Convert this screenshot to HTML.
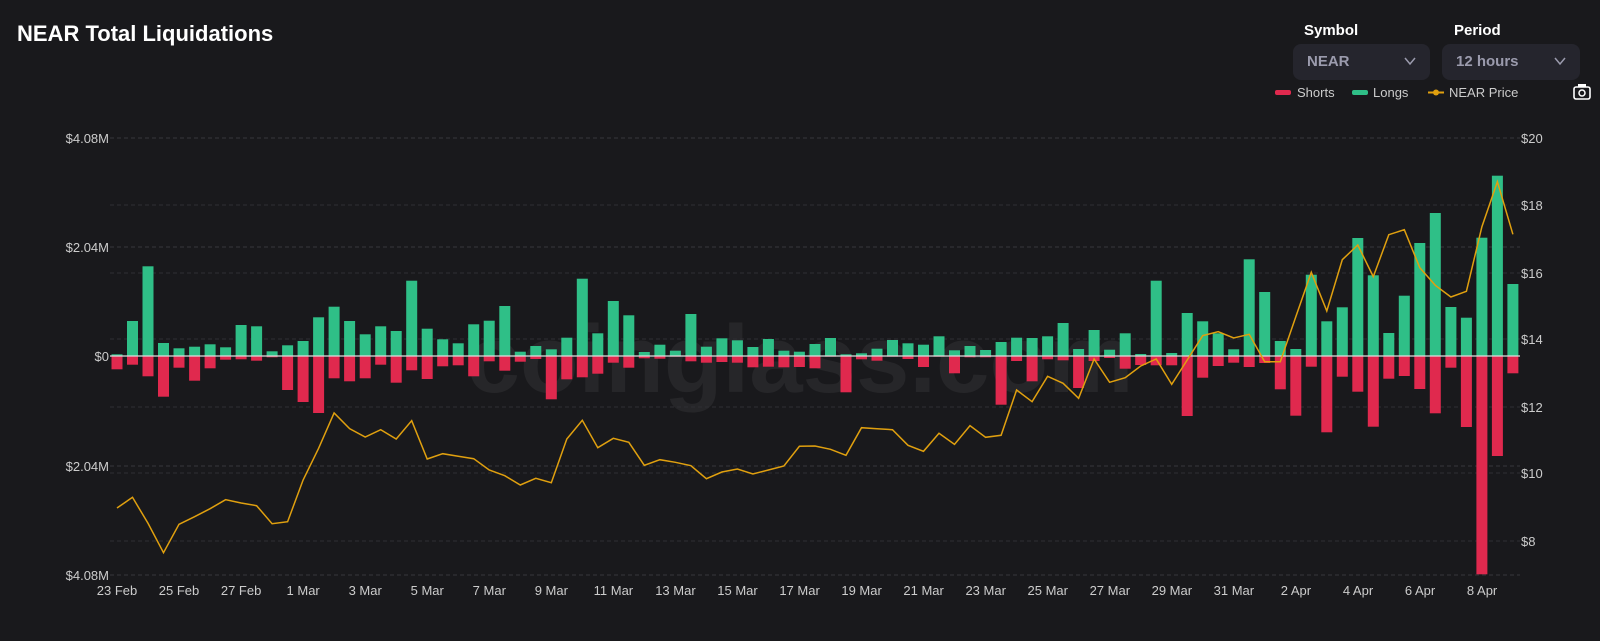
<!DOCTYPE html>
<html><head><meta charset="utf-8"><style>
html,body{margin:0;padding:0;background:#19191c;width:1600px;height:641px;overflow:hidden;font-family:"Liberation Sans",sans-serif}
</style></head><body>
<svg id="s" width="1600" height="641" xmlns="http://www.w3.org/2000/svg" style="position:absolute;left:0;top:0">
<rect width="1600" height="641" fill="#19191c"/>
<text x="17" y="41" fill="#fff" font-size="22" font-weight="bold" font-family="Liberation Sans, sans-serif">NEAR Total Liquidations</text>
<text x="1304" y="35" fill="#fff" font-size="15" font-weight="bold">Symbol</text>
<text x="1454" y="35" fill="#fff" font-size="15" font-weight="bold">Period</text>
<rect x="1293" y="44" width="137" height="36" rx="8" fill="#25252d"/>
<rect x="1442" y="44" width="138" height="36" rx="8" fill="#25252d"/>
<text x="1307" y="66" fill="#9b9bad" font-size="15" font-weight="bold">NEAR</text>
<text x="1456" y="66" fill="#9b9bad" font-size="15" font-weight="bold">12 hours</text>
<polyline points="1405,58 1410,64 1415,58" fill="none" stroke="#9b9bad" stroke-width="1.5"/>
<polyline points="1555,58 1560,64 1565,58" fill="none" stroke="#9b9bad" stroke-width="1.5"/>
<rect x="1275" y="90" width="16" height="5" rx="2" fill="#e0294e"/>
<text x="1297" y="97" fill="#ccc" font-size="13">Shorts</text>
<rect x="1352" y="90" width="16" height="5" rx="2" fill="#2fbf87"/>
<text x="1373" y="97" fill="#ccc" font-size="13">Longs</text>
<line x1="1428" y1="92.5" x2="1444" y2="92.5" stroke="#e0a00f" stroke-width="2"/>
<circle cx="1436" cy="92.5" r="3" fill="#e0a00f"/>
<text x="1449" y="97" fill="#ccc" font-size="13">NEAR Price</text>
<rect x="1574" y="87" width="16" height="12" rx="2" fill="none" stroke="#fff" stroke-width="1.6"/>
<rect x="1578" y="84" width="8" height="3" fill="#fff"/>
<circle cx="1582" cy="93" r="3" fill="none" stroke="#fff" stroke-width="1.5"/>
<text x="800" y="392" fill="#fff" fill-opacity="0.06" font-size="96" font-weight="bold" text-anchor="middle">coinglass.com</text>
<g id="g"></g>
</svg>
<script>
var g=document.getElementById('g'),h='';
[138,247,466,575].forEach(function(y){h+='<line x1="110" x2="1520" y1="'+y+'" y2="'+y+'" stroke="#36363c" stroke-dasharray="4,3"/>';});
[205,273,339,407,473,541].forEach(function(y){h+='<line x1="110" x2="1520" y1="'+y+'" y2="'+y+'" stroke="#2e2e34" stroke-dasharray="4,3"/>';});
var L=[['$4.08M',138],['$2.04M',247],['$0',356],['$2.04M',466],['$4.08M',575]];
L.forEach(function(a){h+='<text x="109" y="'+(a[1]+5)+'" fill="#ccc" font-size="13" text-anchor="end">'+a[0]+'</text>';});
var R=[['$20',138],['$18',205],['$16',273],['$14',339],['$12',407],['$10',473],['$8',541]];
R.forEach(function(a){h+='<text x="1521" y="'+(a[1]+5)+'" fill="#ccc" font-size="13">'+a[0]+'</text>';});
var X=['23 Feb','25 Feb','27 Feb','1 Mar','3 Mar','5 Mar','7 Mar','9 Mar','11 Mar','13 Mar','15 Mar','17 Mar','19 Mar','21 Mar','23 Mar','25 Mar','27 Mar','29 Mar','31 Mar','2 Apr','4 Apr','6 Apr','8 Apr'];
X.forEach(function(t,i){h+='<text x="'+(117+i*62.05)+'" y="595" fill="#ccc" font-size="13" text-anchor="middle">'+t+'</text>';});
var G=[354.3,321,266.3,343,348.3,346.7,344.3,347.3,325,326.3,351.3,345.3,341,317.3,306.7,321,334.3,326.3,331,280.7,328.7,339.3,343.3,324.3,320.7,306,351.7,346,349.3,337.7,278.7,333.3,301,315.3,352,344.7,350.7,314,346.7,338.3,340.3,347,339,350.7,351.7,344,338,354.3,353.3,348.7,340,343.3,344.7,336.3,350.3,346,350,342,337.7,338,336.3,323,349,330,349.7,333.3,354,280.7,353,313,321.3,333.3,349.3,259.3,292,341,349,274.7,321.3,307.3,238,275.3,333,295.7,243,213,307,317.7,237.7,175.7,284];
var Rd=[369.3,364.7,376.3,396.7,367.7,380.7,368.3,359.7,359.3,360.7,357.3,390,402,413,378.3,381.3,378.3,364.7,382.7,370.3,379,366.3,365.3,376.3,361.3,370.7,361.7,359,399.3,379.3,377.3,373.7,362.7,367.7,358.3,358.7,356.7,361.3,362.7,362,362.7,367.3,366.7,367.3,367,368.3,356.7,392.3,359.3,360.7,356.7,359,367,356.7,373.3,357.3,357.3,404.7,361,381.3,359.3,360.3,388,361,358,368.7,365,365.3,365.3,416,377.7,366,362.7,367,363,389.3,415.7,366.7,432.3,376.7,391.7,426.7,378.7,376,389,413.3,367.7,427,574.3,456,373.3];
var P=[508,497.3,523.3,552.7,524.3,516.7,508.7,499.7,503,505.7,523.7,521.7,480,448.3,413,428.7,437,429.7,439,420.7,459,453.7,456.3,458.7,470,475.7,485,478.3,482.7,439,420.3,447.7,438.3,442.3,465.3,459.7,462.3,465.7,478.7,472,469,474,470,466,446.3,446,449.3,455.3,427.7,428.7,429.7,445.3,451.3,433.3,444.3,425.7,437.3,435.3,390,401.7,376.3,383.3,398.3,359,382.3,377.7,366,359,384.3,360,335.7,331.7,338,334.3,361.7,361.7,316.7,272.3,311,259.7,245,276.7,234.7,229.7,267.7,285.3,297,291.3,226.7,181.7,234.3];
var Z=356,pts=[];
for(var i=0;i<91;i++){var x=117+i*15.51;
var gy=Math.min(G[i],Z-0.5),ry=Math.max(Rd[i],Z+0.5);
h+='<rect x="'+(x-5.5).toFixed(1)+'" y="'+gy+'" width="11" height="'+(Z-gy).toFixed(1)+'" fill="#2fbf87"/>';
h+='<rect x="'+(x-5.5).toFixed(1)+'" y="'+Z+'" width="11" height="'+(ry-Z).toFixed(1)+'" fill="#e0294e"/>';
pts.push(x.toFixed(1)+','+P[i]);}
h+='<line x1="110" x2="1520" y1="'+Z+'" y2="'+Z+'" stroke="#ddd" stroke-width="1.2"/>';
h+='<polyline points="'+pts.join(' ')+'" fill="none" stroke="#e0a00f" stroke-width="1.5"/>';
g.innerHTML=h;
</script>
</body></html>
